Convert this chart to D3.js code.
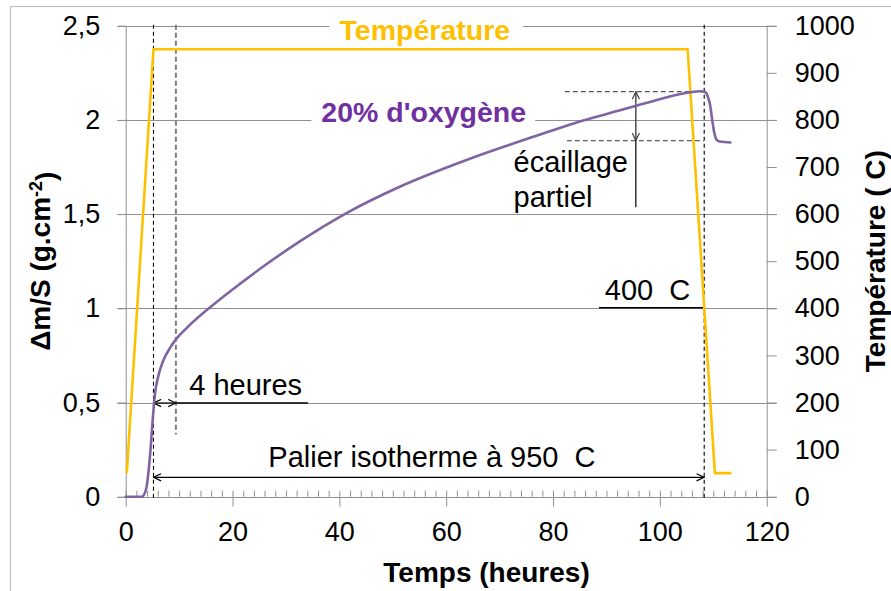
<!DOCTYPE html>
<html>
<head>
<meta charset="utf-8">
<script src="https://cdn.jsdelivr.net/npm/d3@7"></script>
<style>
  body { margin: 0; background: #fff; }
  svg { display: block; }
  text { font-family: "Liberation Sans", Arial, Helvetica, sans-serif; }
  .pre { white-space: pre; }
</style>
</head>
<body>
<svg id="chart" width="891" height="591"></svg>
<script>
// Oxidation test in 20% oxygen: mass gain per unit area and furnace temperature vs time
const timeHours = [0, 3, 3.4, 3.9, 4.5, 5.2, 5.5, 6.1, 7, 8.3, 9.4, 11.4, 13.9, 16, 20, 26.4, 32.6, 41, 51.3, 63.8, 76.3, 85.5, 92, 98.5, 105.3, 107.4, 108.3, 108.9, 109.4, 109.8, 110.2, 110.6, 111.2, 113.2];
const massGain  = [0, 0, 0.01, 0.05, 0.2, 0.46, 0.55, 0.64, 0.72, 0.79, 0.835, 0.895, 0.96, 1.01, 1.1, 1.235, 1.355, 1.5, 1.645, 1.787, 1.91, 1.995, 2.047, 2.098, 2.145, 2.152, 2.15, 2.13, 2.08, 2.0, 1.93, 1.895, 1.885, 1.88];

// Thermal cycle: ramp up, isothermal hold at 950 °C, cool down
const tempHours  = [0.2, 5.2, 105.2, 110.3, 113.4];
const tempValues = [50, 950, 950, 50, 50];

// Reference instants (hours)
const holdStart = 5.2;
const holdEnd = 108.3;
const fourHourMark = 9.4;

// Spalling bracket levels (g.cm-2)
const peakGain = 2.15;
const afterSpall = 1.89;

// Axes ticks
const massTicks = [0, 0.5, 1, 1.5, 2, 2.5];
const massTickLabels = ["0", "0,5", "1", "1,5", "2", "2,5"];
const tempTicks = [0, 100, 200, 300, 400, 500, 600, 700, 800, 900, 1000];
const timeTicks = [0, 20, 40, 60, 80, 100, 120];
const timeMinorTicks = d3.range(0, 121, 2);

const svg = d3.select("#chart");

const x = d3.scaleLinear().domain([0, 120]).range([125.7, 766.7]);
const y = d3.scaleLinear().domain([0, 2.5]).range([496.7, 25.7]);
const yT = d3.scaleLinear().domain([0, 1000]).range([496.7, 25.7]);

const gridColor = "#909090";
const yellow = "#FFC000";
const purpleLine = "#8064A2";
const purpleText = "#7030A0";

// outer frame
svg.append("rect")
  .attr("x", 10.5).attr("y", 6.5)
  .attr("width", 1000).attr("height", 1000)
  .attr("fill", "none").attr("stroke", "#c0c0c0").attr("stroke-width", 1.2);

// horizontal gridlines (extend over both tick marks)
svg.append("g").selectAll("line")
  .data(massTicks)
  .join("line")
  .attr("x1", x(0) - 8.5).attr("x2", x(120) + 10)
  .attr("y1", d => Math.round(y(d)) + 0.5).attr("y2", d => Math.round(y(d)) + 0.5)
  .attr("stroke", gridColor).attr("stroke-width", 1);

function styleAxis(g) {
  g.selectAll("path.domain").attr("stroke", gridColor);
  g.selectAll(".tick line").attr("stroke", gridColor);
  g.selectAll("text")
    .attr("fill", "#000")
    .style("font-size", "27px")
    .style("font-family", '"Liberation Sans", Arial, sans-serif');
}

// left axis
const gLeft = svg.append("g").attr("transform", `translate(${x(0)},0)`)
  .call(d3.axisLeft(y).tickValues(massTicks)
    .tickFormat((d, i) => massTickLabels[i])
    .tickSize(8).tickSizeOuter(0).tickPadding(17.5));
styleAxis(gLeft);

// right axis
const gRight = svg.append("g").attr("transform", `translate(${x(120)},0)`)
  .call(d3.axisRight(yT).tickValues(tempTicks)
    .tickFormat(d3.format("d"))
    .tickSize(10).tickSizeOuter(0).tickPadding(18));
styleAxis(gRight);

// bottom axis: minor ticks inside, major ticks outside with labels
const gMinor = svg.append("g").attr("transform", `translate(0,${y(0)})`)
  .call(d3.axisBottom(x).tickValues(timeMinorTicks).tickFormat("").tickSize(-6).tickSizeOuter(0));
styleAxis(gMinor);
gMinor.select("path.domain").remove();

const gBottom = svg.append("g").attr("transform", `translate(0,${y(0)})`)
  .call(d3.axisBottom(x).tickValues(timeTicks).tickSize(10).tickSizeOuter(0).tickPadding(15));
styleAxis(gBottom);
gBottom.select("path.domain").remove();

// axis titles
svg.append("text")
  .attr("transform", `translate(50,${(y(0) + y(2.5)) / 2}) rotate(-90)`)
  .attr("text-anchor", "middle")
  .style("font-size", "28px").style("font-weight", "bold")
  .call(t => {
    t.append("tspan").text("Δm/S (g.cm");
    t.append("tspan").attr("dy", "-0.45em").style("font-size", "18px").text("-2");
    t.append("tspan").attr("dy", "0.45em").text(")");
  });

svg.append("text")
  .attr("class", "pre")
  .attr("transform", `translate(885,${(y(0) + y(2.5)) / 2}) rotate(-90)`)
  .attr("text-anchor", "middle")
  .style("font-size", "28px").style("font-weight", "bold")
  .text("Température ( C)");

svg.append("text")
  .attr("x", 486.5).attr("y", 581.5)
  .attr("text-anchor", "middle")
  .style("font-size", "28px").style("font-weight", "bold")
  .text("Temps (heures)");

// series name with a white backing over the gridline
function seriesLabel(txt, cx, baseline, color, padL, padR) {
  const g = svg.append("g");
  const bg = g.append("rect").attr("fill", "#fff");
  const t = g.append("text")
    .attr("x", cx).attr("y", baseline)
    .attr("text-anchor", "middle")
    .attr("fill", color)
    .style("font-size", "28.5px").style("font-weight", "bold")
    .text(txt);
  const b = t.node().getBBox();
  bg.attr("x", b.x - padL).attr("y", b.y).attr("width", b.width + padL + padR).attr("height", b.height);
}
seriesLabel("Température", x(56), 39.5, yellow, 10, 13);
seriesLabel("20% d'oxygène", x(55.8), 122, purpleText, 10, 9);

// arrow markers (open chevrons)
const defs = svg.append("defs");
function chevron(id, color) {
  defs.append("marker")
    .attr("id", id)
    .attr("viewBox", "0 0 10 10")
    .attr("refX", 9.5).attr("refY", 5)
    .attr("markerWidth", 9).attr("markerHeight", 9)
    .attr("markerUnits", "userSpaceOnUse")
    .attr("orient", "auto-start-reverse")
    .append("path")
    .attr("d", "M1,1 L9.5,5 L1,9")
    .attr("fill", "none").attr("stroke", color).attr("stroke-width", 1.3);
}
chevron("arrBlack", "#000");
chevron("arrGray", "#404040");

// vertical reference lines
svg.append("line")
  .attr("x1", x(holdStart)).attr("x2", x(holdStart))
  .attr("y1", y(2.5) - 1).attr("y2", y(0) + 2)
  .attr("stroke", "#000").attr("stroke-width", 1.1).attr("stroke-dasharray", "4,3");
svg.append("line")
  .attr("x1", x(fourHourMark)).attr("x2", x(fourHourMark))
  .attr("y1", y(2.5) - 1).attr("y2", y(0.33))
  .attr("stroke", "#808080").attr("stroke-width", 2).attr("stroke-dasharray", "5,3");
svg.append("line")
  .attr("x1", x(holdEnd)).attr("x2", x(holdEnd))
  .attr("y1", y(2.5) - 1).attr("y2", y(0) + 3)
  .attr("stroke", "#000").attr("stroke-width", 1.1).attr("stroke-dasharray", "4,3");

// spalling bracket
svg.append("line")
  .attr("x1", x(82.2)).attr("x2", x(holdEnd))
  .attr("y1", y(peakGain)).attr("y2", y(peakGain))
  .attr("stroke", "#555").attr("stroke-width", 1.3).attr("stroke-dasharray", "5,3");
svg.append("line")
  .attr("x1", x(82.6)).attr("x2", x(holdEnd))
  .attr("y1", y(afterSpall)).attr("y2", y(afterSpall))
  .attr("stroke", "#666").attr("stroke-width", 1.3).attr("stroke-dasharray", "5,3");
svg.append("line")
  .attr("x1", x(95.5)).attr("x2", x(95.5))
  .attr("y1", y(peakGain)).attr("y2", y(afterSpall))
  .attr("stroke", "#404040").attr("stroke-width", 1.4)
  .attr("marker-start", "url(#arrGray)").attr("marker-end", "url(#arrGray)");
svg.append("line")
  .attr("x1", x(95.5)).attr("x2", x(95.5))
  .attr("y1", y(afterSpall)).attr("y2", y(1.537))
  .attr("stroke", "#000").attr("stroke-width", 1.2);

// "4 heures" arrow and underline
svg.append("line")
  .attr("x1", x(holdStart)).attr("x2", x(fourHourMark))
  .attr("y1", y(0.5) + 0.5).attr("y2", y(0.5) + 0.5)
  .attr("stroke", "#000").attr("stroke-width", 1.2)
  .attr("marker-start", "url(#arrBlack)").attr("marker-end", "url(#arrBlack)");
svg.append("line")
  .attr("x1", x(fourHourMark)).attr("x2", x(34.1))
  .attr("y1", y(0.5) + 0.5).attr("y2", y(0.5) + 0.5)
  .attr("stroke", "#000").attr("stroke-width", 1.5);

// isothermal hold arrow
svg.append("line")
  .attr("x1", x(holdStart)).attr("x2", x(holdEnd))
  .attr("y1", y(0.103)).attr("y2", y(0.103))
  .attr("stroke", "#000").attr("stroke-width", 1.3)
  .attr("marker-start", "url(#arrBlack)").attr("marker-end", "url(#arrBlack)");

// 400 °C underline
svg.append("line")
  .attr("x1", x(88.6)).attr("x2", x(holdEnd))
  .attr("y1", yT(400) - 0.5).attr("y2", yT(400) - 0.5)
  .attr("stroke", "#000").attr("stroke-width", 1.5);

// temperature curve
svg.append("path")
  .datum(tempHours.map((h, i) => [h, tempValues[i]]))
  .attr("fill", "none").attr("stroke", yellow).attr("stroke-width", 2.6)
  .attr("stroke-linejoin", "round")
  .attr("d", d3.line().x(d => x(d[0])).y(d => yT(d[1])));

// mass gain curve
svg.append("path")
  .datum(timeHours.map((h, i) => [h, massGain[i]]))
  .attr("fill", "none").attr("stroke", purpleLine).attr("stroke-width", 2.6)
  .attr("stroke-linejoin", "round").attr("stroke-linecap", "round")
  .attr("d", d3.line().curve(d3.curveMonotoneX).x(d => x(d[0])).y(d => y(d[1])));

// annotation texts
function note(txt, hx, val, scale) {
  svg.append("text")
    .attr("class", "pre")
    .attr("x", x(hx)).attr("y", scale(val))
    .style("font-size", "29px")
    .attr("fill", "#000")
    .text(txt);
}
note("4 heures", 11.9, 0.539, y);
note("Palier isotherme à 950  C", 26.7, 0.159, y);
note("400  C", 89.7, 1.044, y);
note("écaillage", 72.6, 1.723, y);
note("partiel", 72.6, 1.537, y);
</script>
</body>
</html>
